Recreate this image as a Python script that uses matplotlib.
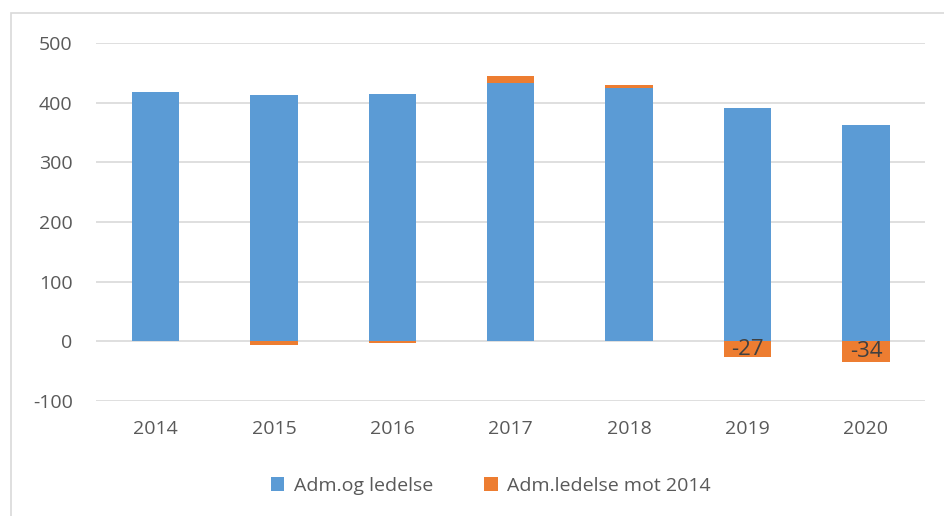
import matplotlib.pyplot as plt
from matplotlib.patches import Rectangle

years = ["2014", "2015", "2016", "2017", "2018", "2019", "2020"]
adm_og_ledelse = [418, 412, 415, 432, 424, 391, 363]
endring_mot_2014 = [0, -6, -3, 13, 6, -27, -34]
labelled = ["", "", "", "", "", "-27", "-34"]

blue = "#5B9BD5"
orange = "#ED7D31"
grey_text = "#595959"

plt.rcParams["font.family"] = ["Open Sans", "DejaVu Sans"]
plt.rcParams["axes.unicode_minus"] = False

fig = plt.figure(figsize=(9.44, 5.16), dpi=100)
ax = fig.add_axes([0.102, 0.223, 0.878, 0.694])

x = list(range(len(years)))
ax.bar(x, adm_og_ledelse, width=0.4, color=blue, label="Adm.og ledelse", zorder=3)
bottoms = [b if v > 0 else 0 for b, v in zip(adm_og_ledelse, endring_mot_2014)]
bars = ax.bar(x, endring_mot_2014, width=0.4, bottom=bottoms, color=orange,
              label="Adm.ledelse mot 2014", zorder=3)
ax.bar_label(bars, labels=labelled, label_type="center", fontsize=16, color="#404040")

ax.set_ylim(-100, 500)
ax.set_xlim(-0.5, len(years) - 0.5)
ax.set_yticks(range(-100, 501, 100))
ax.set_xticks(x)
ax.set_xticklabels(years)
ax.yaxis.grid(True, color="#d9d9d9", lw=1.2, zorder=0)
for s in ax.spines.values():
    s.set_visible(False)
ax.tick_params(axis="both", length=0, labelsize=14, colors=grey_text)
ax.tick_params(axis="x", pad=14)
ax.tick_params(axis="y", pad=17)

fig.legend(loc="center", bbox_to_anchor=(0.52, 0.058), ncol=2, frameon=False,
           fontsize=14, labelcolor=grey_text, handlelength=0.7, handleheight=0.7,
           columnspacing=2.6, handletextpad=0.5)

fig.patches.append(Rectangle((11 / 944, -0.01), 1.0, 1 - 13 / 516 + 0.01,
                             transform=fig.transFigure, fill=False,
                             edgecolor="#d9d9d9", lw=1.2))

fig.savefig("out.png", dpi=100)
